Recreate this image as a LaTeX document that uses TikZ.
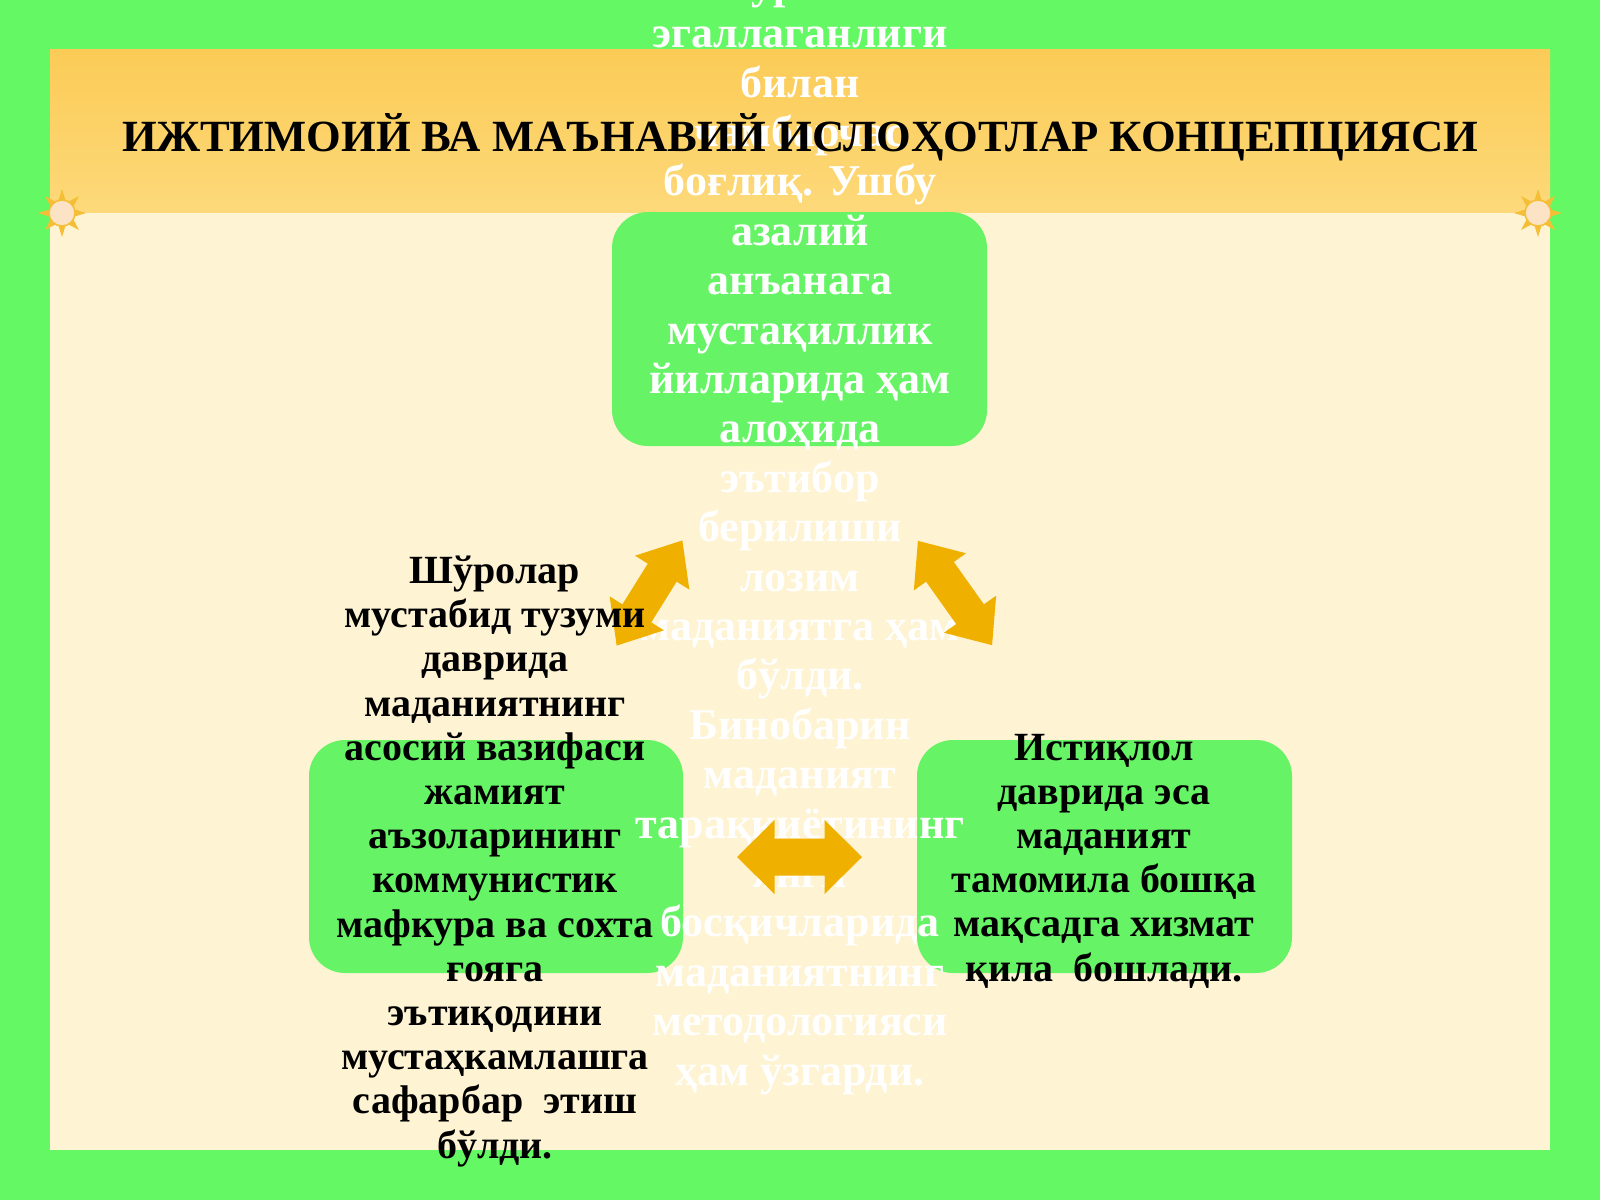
\documentclass[tikz,border=0pt]{standalone}
\usepackage{fontspec}
\setmainfont{Liberation Serif}
\definecolor{bggreen}{HTML}{64F964}
\definecolor{boxgreen}{HTML}{66F466}
\definecolor{cream}{HTML}{FEF3D2}
\definecolor{headtop}{HTML}{FBCB56}
\definecolor{headbot}{HTML}{FDD97A}
\definecolor{arrorange}{HTML}{F0B000}
\definecolor{sunray}{HTML}{F4BE36}
\definecolor{suncore}{HTML}{FDE3C6}
\begin{document}
\begin{tikzpicture}[x=1pt,y=-1pt,
  gbox/.style={fill=boxgreen, rounded corners=36pt, inner sep=0pt},
  btext/.style={font=\fontsize{40}{44.2}\selectfont\bfseries, align=center, text=black, inner sep=0pt},
  wtext/.style={font=\fontsize{44}{49.4}\selectfont\bfseries, align=center, text=white, inner sep=0pt},
  ttext/.style={font=\fontsize{44.6}{50}\selectfont\bfseries, text=black, inner sep=0pt},
  arrowfill/.style={fill=arrorange}]
\useasboundingbox (0,0) rectangle (1600,1200);
\begin{scope}
\clip (0,0) rectangle (1600,1200);
% background
\fill[bggreen] (0,0) rectangle (1600,1200);
\fill[cream] (50,49) rectangle (1550,1150);
\shade[top color=headtop, bottom color=headbot] (50,49) rectangle (1550,212);
% suns
\foreach \sx/\sy in {62/213,1538/213}{
  \begin{scope}[shift={(\sx,\sy)}]
    \foreach \a in {0,45,...,315}{
      \fill[sunray, rotate=\a] (11,-4) -- (24,0) -- (11,4) -- cycle;}
    \fill[suncore, draw=sunray, line width=1.5pt] (0,0) circle (13);
  \end{scope}}
% green boxes
\node[gbox, minimum width=375, minimum height=234] (top) at (799.5,329) {};
\node[gbox, minimum width=374, minimum height=233] (left) at (496,856.5) {};
\node[gbox, minimum width=375, minimum height=233] (right) at (1104.5,856.5) {};
% overflowing white text of the top box (base = last line)
\node[wtext, anchor=base] (toptext) at (800,1085) {ўрин\\эгаллаганлиги\\билан\\чамбарчас\\боғлиқ. Ушбу\\азалий\\анъанага\\мустақиллик\\йилларида ҳам\\алоҳида\\эътибор\\берилиши\\лозим\\маданиятга ҳам\\бўлди.\\Бинобарин\\маданият\\тараққиётининг\\янги\\босқичларида\\маданиятнинг\\методологияси\\ҳам ўзгарди.};
% title
\node[ttext, anchor=base] (title) at (800,151) {ИЖТИМОИЙ ВА МАЪНАВИЙ ИСЛОҲОТЛАР КОНЦЕПЦИЯСИ};
% arrows
\coordinate (arrTL) at (649.5,593);
\coordinate (arrTR) at (955,593);
\coordinate (arrB) at (799.5,857);
\fill[arrowfill, shift={(arrTL)}, rotate=58] (-62,0) -- (-24,32) -- (-24,17) -- (24,17) -- (24,32) -- (62,0) -- (24,-32) -- (24,-17) -- (-24,-17) -- (-24,-32) -- cycle;
\fill[arrowfill, shift={(arrTR)}, rotate=-54.6] (-64,0) -- (-26,32) -- (-26,17) -- (26,17) -- (26,32) -- (64,0) -- (26,-32) -- (26,-17) -- (-26,-17) -- (-26,-32) -- cycle;
\fill[arrowfill, shift={(arrB)}] (-62.5,0) -- (-25,37) -- (-25,18.5) -- (25,18.5) -- (25,37) -- (62.5,0) -- (25,-37) -- (25,-18.5) -- (-25,-18.5) -- (-25,-37) -- cycle;
% black texts (base = last line)
\node[btext, anchor=base] (lefttext) at (495,1158) {Шўролар\\мустабид тузуми\\даврида\\маданиятнинг\\асосий вазифаси\\жамият\\аъзоларининг\\коммунистик\\мафкура ва сохта\\ғояга\\эътиқодини\\мустаҳкамлашга\\сафарбар\ \ этиш\\бўлди.};
\node[btext, anchor=base] (righttext) at (1104,981) {Истиқлол\\даврида эса\\маданият\\тамомила бошқа\\мақсадга хизмат\\қила\ \ бошлади.};
\end{scope}
\end{tikzpicture}
\end{document}
